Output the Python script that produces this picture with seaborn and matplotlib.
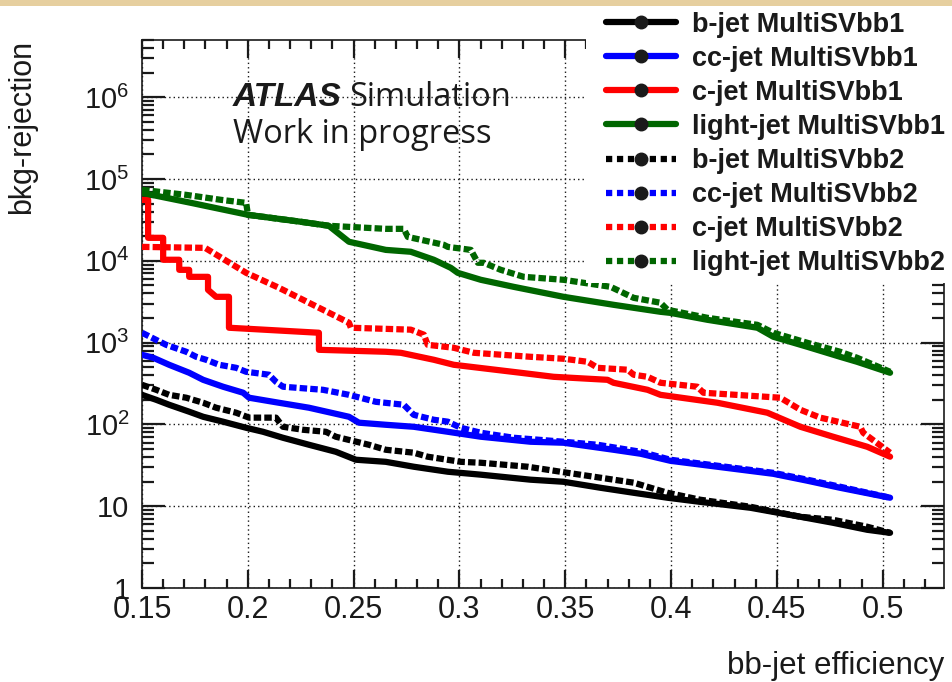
import numpy as np
import pandas as pd
import matplotlib
matplotlib.use("Agg")
import matplotlib.pyplot as plt
import seaborn as sns
from matplotlib.lines import Line2D
from matplotlib.patches import Rectangle
from matplotlib.ticker import MultipleLocator, FuncFormatter, LogLocator, NullFormatter

# ---------------- data ----------------
b1_eff = [0.150, 0.1567, 0.1628, 0.1723, 0.1789, 0.1883, 0.1992, 0.2072, 0.2166, 0.2289,
          0.2416, 0.2511, 0.2652, 0.2784, 0.2945, 0.3101, 0.3336, 0.3492, 0.3667, 0.3823,
          0.3983, 0.4138, 0.4375, 0.4611, 0.4766, 0.4927, 0.5035]
b1_rej = [230, 200, 174, 143, 124, 108, 91, 81.3, 68.7, 56.4,
          46.3, 37.0, 34.9, 30.4, 26.4, 24.3, 21.1, 19.9, 16.8, 14.6,
          12.7, 11.3, 9.57, 7.43, 6.27, 5.15, 4.73]

cc1_eff = [0.150, 0.1553, 0.1628, 0.1723, 0.1789, 0.1883, 0.1978, 0.2006, 0.2147, 0.2289,
           0.2478, 0.2525, 0.2652, 0.2784, 0.2945, 0.3101, 0.3336, 0.3492, 0.3728, 0.3856,
           0.3997, 0.4483, 0.4644, 0.4799, 0.5035]
cc1_rej = [710, 653, 536, 428, 351, 289, 244, 212, 184, 160,
           124, 105, 99, 93.6, 81.3, 70.7, 61.4, 59.7, 49.0, 43.8,
           35.9, 24.9, 20.5, 16.8, 12.7]

c1_eff = [0.150, 0.1529, 0.1529, 0.1600, 0.1600, 0.1676, 0.1676, 0.1723, 0.1723, 0.1812,
          0.1812, 0.1850, 0.1911, 0.1911, 0.2336, 0.2336, 0.2652, 0.2723, 0.2879, 0.2973,
          0.3289, 0.3445, 0.3700, 0.3728, 0.3889, 0.3950, 0.4219, 0.4455, 0.4611, 0.4766,
          0.4927, 0.5035]
c1_rej = [55600, 55600, 19100, 19100, 10300, 10300, 7760, 7760, 6370, 6370,
          4420, 3630, 3630, 1520, 1320, 817, 773, 751, 617, 536,
          428, 382, 351, 323, 265, 230, 184, 139, 93.6, 70.7,
          53.3, 40.3]

l1_eff = [0.150, 0.1732, 0.2001, 0.2251, 0.2383, 0.2478, 0.2652, 0.2770, 0.2879, 0.2959,
          0.2992, 0.3101, 0.3256, 0.3492, 0.3728, 0.3950, 0.3997, 0.4172, 0.4408, 0.4483,
          0.4644, 0.4799, 0.4879, 0.5035]
l1_rej = [67700, 51100, 36500, 30000, 26800, 17100, 13600, 12900, 10300, 8210,
          7130, 5860, 4810, 3630, 2900, 2380, 2310, 1900, 1520, 1180,
          889, 671, 583, 428]

b2_eff = [0.150, 0.1567, 0.1628, 0.1709, 0.1789, 0.1850, 0.1945, 0.2006, 0.2133, 0.2166,
          0.2261, 0.2369, 0.2416, 0.2572, 0.2652, 0.2784, 0.2850, 0.3006, 0.3101, 0.3322,
          0.3417, 0.3511, 0.3667, 0.3823, 0.3983, 0.4138, 0.4375, 0.4611, 0.4766, 0.4927,
          0.5035]
b2_rej = [305, 265, 230, 212, 184, 160, 139, 121, 121, 93.6,
          86, 81.3, 70.7, 56.4, 49.0, 45.1, 40.3, 34.9, 34.0, 30.4,
          27.9, 25.6, 22.3, 19.4, 14.6, 12.0, 9.85, 7.43, 6.82, 5.61,
          4.73]

cc2_eff = [0.150, 0.1567, 0.1614, 0.1709, 0.1756, 0.1803, 0.1864, 0.1945, 0.1992, 0.2100,
           0.2133, 0.2166, 0.2355, 0.2478, 0.2605, 0.2737, 0.2784, 0.2879, 0.2945, 0.3006,
           0.3101, 0.3256, 0.3492, 0.3653, 0.3856, 0.3997, 0.4483, 0.4644, 0.4799, 0.5035]
cc2_rej = [1320, 1080, 940, 773, 671, 617, 536, 492, 440, 405,
           332, 289, 265, 230, 189, 174, 131, 114, 108, 91,
           79.1, 68.7, 61.4, 56.4, 46.3, 37.0, 25.6, 21.1, 17.3, 12.7]

c2_eff = [0.150, 0.1798, 0.1798, 0.1992, 0.1992, 0.2147, 0.2147, 0.2478, 0.2487, 0.2770,
          0.2832, 0.2850, 0.2973, 0.3068, 0.3336, 0.3492, 0.3606, 0.3653, 0.3795, 0.3823,
          0.3889, 0.3950, 0.4124, 0.4153, 0.4516, 0.4611, 0.4705, 0.4894, 0.4908, 0.5035]
c2_rej = [14800, 14400, 14400, 7130, 7130, 4680, 4680, 1750, 1520, 1440,
          1250, 940, 865, 751, 671, 635, 583, 492, 466, 405,
          382, 323, 289, 244, 212, 151, 121, 93.6, 79.1, 45.1]

l2_eff = [0.150, 0.1709, 0.1874, 0.1992, 0.2001, 0.2251, 0.2383, 0.2652, 0.2737, 0.2756,
          0.2926, 0.2945, 0.3054, 0.3087, 0.3115, 0.3195, 0.3304, 0.3492, 0.3714, 0.3823,
          0.3950, 0.3983, 0.4172, 0.4408, 0.4483, 0.4644, 0.4799, 0.4879, 0.5035]
l2_rej = [73700, 64000, 55600, 51100, 36500, 30000, 26800, 24600, 24600, 19600,
          15700, 14800, 13600, 9460, 9460, 7760, 6370, 5860, 4810, 3530,
          3070, 2520, 2010, 1650, 1320, 995, 773, 653, 440]

labels = ["b-jet MultiSVbb1", "cc-jet MultiSVbb1", "c-jet MultiSVbb1", "light-jet MultiSVbb1",
          "b-jet MultiSVbb2", "cc-jet MultiSVbb2", "c-jet MultiSVbb2", "light-jet MultiSVbb2"]
colors = ["#000000", "#0000ff", "#ff0000", "#006600"] * 2
series = [(b1_eff, b1_rej), (cc1_eff, cc1_rej), (c1_eff, c1_rej), (l1_eff, l1_rej),
          (b2_eff, b2_rej), (cc2_eff, cc2_rej), (c2_eff, c2_rej), (l2_eff, l2_rej)]

# ---------------- style ----------------
sns.set_theme(style="ticks")
plt.rcParams["font.family"] = ["Liberation Sans", "DejaVu Sans"]
plt.rcParams.update({
    "text.color": "k", "axes.labelcolor": "k", "xtick.color": "k",
    "ytick.color": "k", "axes.edgecolor": "k",
    "xtick.bottom": True, "xtick.top": True, "ytick.left": True, "ytick.right": True,
    "xtick.direction": "in", "ytick.direction": "in",
    "mathtext.fontset": "custom", "mathtext.rm": "Liberation Sans",
})

fig = plt.figure(figsize=(9.53, 6.82), dpi=100)
fig.patch.set_facecolor("white")
ax = fig.add_axes([0.149, 0.1378, 0.8416, 0.8035])
ax.set_yscale("log")

LW = 4.5
solid = "-"
dotted = (0, (1.2, 0.5))
for i, ((xe, yr), lab, col) in enumerate(zip(series, labels, colors)):
    df = pd.DataFrame({"eff": xe, "rej": yr})
    sns.lineplot(data=df, x="eff", y="rej", ax=ax, color=col, lw=LW,
                 linestyle=solid if i < 4 else dotted,
                 estimator=None, sort=False, legend=False, zorder=3 + i * 0.1)

ax.set_xlim(0.15, 0.529)
ax.set_ylim(1, 5e6)

ax.xaxis.set_major_locator(MultipleLocator(0.05))
ax.xaxis.set_minor_locator(MultipleLocator(0.01))
ax.xaxis.set_major_formatter(FuncFormatter(lambda v, p: f"{round(v, 3):g}"))


def yfmt(v, p):
    e = int(round(np.log10(v)))
    if e == 0:
        return "1"
    if e == 1:
        return "10"
    return r"$\mathregular{10^{%d}}$" % e


ax.yaxis.set_major_locator(LogLocator(base=10, numticks=20))
ax.yaxis.set_minor_locator(LogLocator(base=10, subs=np.arange(2, 10), numticks=20))
ax.yaxis.set_major_formatter(FuncFormatter(yfmt))
ax.yaxis.set_minor_formatter(NullFormatter())

ax.grid(True, which="major", color="k", linestyle=(0, (1, 2.2)), linewidth=1.0)
for s in ax.spines.values():
    s.set_visible(True)
    s.set_color("k")
    s.set_linewidth(1.2)

ax.set_xlabel("bb-jet efficiency", fontsize=22.5, loc="right")
ax.set_ylabel("bkg-rejection", fontsize=22, loc="top")
ax.xaxis.set_label_coords(1.0, -0.115)
ax.yaxis.set_label_coords(-0.131, 1.0)

# ATLAS label
fig.text(233 / 953, 1 - 106 / 682, "ATLAS", fontsize=24, fontweight="bold",
         fontstyle="italic", family=["Liberation Sans", "DejaVu Sans"])
fig.text(349 / 953, 1 - 106 / 682, "Simulation", fontsize=23.5,
         family=["Open Sans", "DejaVu Sans"])
fig.text(233 / 953, 1 - 143 / 682, "Work in progress", fontsize=23.5,
         family=["Open Sans", "DejaVu Sans"])

# white legend box and beige strip
fig.add_artist(Rectangle((586 / 953, 1 - 283 / 682), 1, 283 / 682,
                         transform=fig.transFigure, facecolor="white",
                         edgecolor="none", zorder=5))
fig.add_artist(Rectangle((0, 1 - 6 / 682), 1, 6 / 682, transform=fig.transFigure,
                         facecolor="#e6cf9f", edgecolor="none", zorder=7))

handles = []
for i, (lab, col) in enumerate(zip(labels, colors)):
    handles.append(Line2D([], [], color=col, lw=LW,
                          linestyle="-" if i < 4 else (0, (1, 0.75)),
                          marker="o", markersize=9, markerfacecolor="k",
                          markeredgecolor="k"))
leg = fig.legend(handles, labels, loc="upper left", bbox_to_anchor=(592 / 953, 1 + 2 / 682),
                 frameon=False, borderpad=0, handlelength=2.6, handletextpad=0.6,
                 labelspacing=0.3, prop={"weight": "bold", "size": 19.5})
leg.set_zorder(6)

# ticks: inward on all four sides (set last)
ax.xaxis.set_ticks_position("both")
ax.yaxis.set_ticks_position("both")
ax.tick_params(axis="both", which="both", direction="in", width=1.6, color="k",
               labelbottom=True, labelleft=True, labeltop=False, labelright=False)
ax.tick_params(axis="y", which="major", length=16.5, pad=9, labelsize=21)
ax.tick_params(axis="y", which="minor", length=8.6)
ax.tick_params(axis="x", which="major", length=13, pad=5, labelsize=22)
ax.tick_params(axis="x", which="minor", length=6.5)
for t in ax.yaxis.get_major_ticks() + ax.yaxis.get_minor_ticks() + \
        ax.xaxis.get_major_ticks() + ax.xaxis.get_minor_ticks():
    t.tick1line.set_zorder(10)
    t.tick2line.set_zorder(10)
ax.set_axisbelow(False)

fig.savefig("out.png", dpi=100, facecolor="white")
